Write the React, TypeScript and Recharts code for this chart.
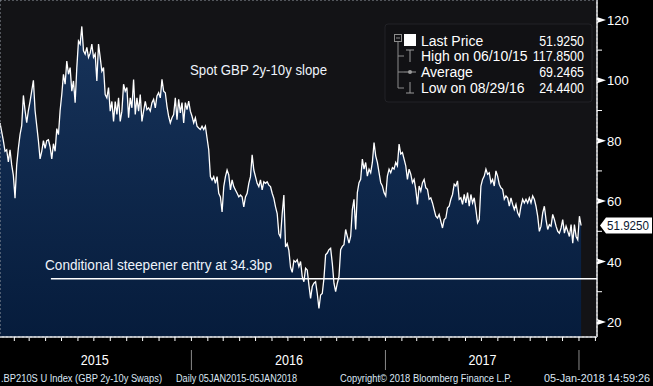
import React from 'react';
import { ComposedChart, Area, XAxis, YAxis, ReferenceLine, CartesianGrid } from 'recharts';

// GBP 2y-10y swap slope, daily 05JAN2015-05JAN2018 (evenly spaced)
const START = Date.UTC(2015, 0, 5);
const END = Date.UTC(2018, 0, 5);
const X_MAX = Date.UTC(2018, 1, 4);

const spot2015a = [
  85.9, 83, 80, 76.5, 77, 73, 77, 72, 68.5, 61, 72, 77.5, 82, 85, 95, 90, 86, 90, 93, 96.5,
  100, 90, 85, 80, 74, 76.5, 80, 77.5, 80, 80.3, 78, 74, 79, 76.5, 84, 82, 90, 95.3, 102, 98.7,
  106.4, 102, 104.2, 96.4, 99.8, 92.6, 104.2, 113, 112, 117.85, 109.8, 108.7, 110.9, 107.6, 109, 112, 107.6, 108.7, 99.8, 112,
  107.6, 103, 104.2, 95.3, 94.2, 97.6, 89.8, 93, 86.4, 93, 88.7, 94.2, 86.4, 89.8, 98.7, 96.4, 97.6, 87.6, 94.2, 90.9,
  100.3, 88.7, 94.2, 89.8, 95.3, 86.4, 89.8, 93, 90.3, 90.9, 89.8,
];
const spot2015b = [
  92.6, 93.7, 90.9, 94.8, 95.9, 94.2, 100.3, 96.4, 95.9, 91.4, 88.1, 85.9, 87.6, 88.7, 94.2, 87, 93.7, 89.2, 92.6, 85.9,
  92.6, 90.3, 93.1, 89.8, 88.1, 85.9, 87.6, 84.8, 84.2, 83.7, 84.8, 83.7, 84.8, 80.9, 77, 68.1, 67, 68.1, 65.9, 68.1,
  62.6, 61.4, 56.4, 64.8, 68.1, 70.3, 68.7, 63.7, 67, 64.8, 63.7, 62.6, 61.4, 62, 61.4, 58.1, 61.4, 62.6, 65.9, 68.1,
  75.3, 70.3, 68.1, 65.9, 64.8, 67, 63.7, 66.4, 65.9, 66.4, 65.3, 64.8, 62.6, 60.9, 58.1, 55.9, 49.2, 48.1, 55.9, 62,
  44.8, 45.9, 43.7, 38.1, 36.4, 40.3, 39.8,
];
const spot2016 = [
  40.6, 38.3, 40, 35, 33.3, 37.8, 37.2, 32.2, 27.8, 31.7, 32.8, 33.3, 29.4, 24.44, 28.9, 29.4, 34.4, 42.2, 42.8, 43.9,
  44.4, 39.4, 32.8, 30, 32.8, 35, 43.9, 45, 45.6, 50.6, 48.3, 46.1, 48.3, 57.2, 60.6, 50.6, 62.8, 66.1, 67.2, 73.9,
  70.6, 72.8, 68.3, 70.6, 69.4, 72.8, 79.4, 75, 72.8, 69.4, 66.1, 65, 62.8, 61.7, 68.3, 70.6, 69.4, 71.1, 70.6, 72.8,
  71.7, 78.9, 75.6, 76.1, 73.9, 71.7, 67.2, 70.6, 68.9, 66.1, 67.2, 63.9, 58.9, 65, 63.3, 66.1, 67.2, 64.4, 63.9, 60.6,
  61.1, 59.4, 57.2, 55, 54.4, 55.6, 53.3,
];
const spot2017 = [
  51.1, 53.9, 54.4, 57.8, 58.3, 60.6, 62.2, 65.6, 65, 66.7, 60.6, 61.1, 58.9, 62.2, 59.4, 62.8, 58.3, 62.2, 59.4, 61.1,
  57.2, 52.8, 53.9, 65, 67.2, 68.3, 70.6, 68.9, 69.4, 66.1, 67.2, 65, 70, 68.3, 65.6, 64.4, 63.9, 60.6, 61.7, 61.1,
  58.3, 61.1, 58.9, 57.2, 58.9, 56.1, 55, 58.3, 60.6, 59.4, 60.6, 59.4, 61.1, 59.4, 61.7, 60.6, 58.3, 55, 50, 51.7,
  56.1, 58.3, 53.9, 50.6, 52.2, 51.7, 55.6, 53.9, 51.7, 50, 49.4, 51.1, 53.9, 49.4, 51.7, 50, 48.3, 52.2, 46.1, 52.2,
  48.3, 47.2, 55, 51.925,
];

const spot = [...spot2015a, ...spot2015b, ...spot2016, ...spot2017];
const data = spot.map((v, i) => ({ t: START + (i * (END - START)) / (spot.length - 1), v }));

const yTicks = [20, 30, 40, 50, 60, 70, 80, 90, 100, 110, 120];
const gridValues = [20, 40, 60, 80, 100, 120];
const yearLabels = ['2015', '2016', '2017'];
const Y_DOMAIN: [number, number] = [15, 126.6];

const monthTicks: number[] = [];
for (let y = 2015; y <= 2018; y++) {
  for (let m = 0; m < 12; m++) {
    const t = Date.UTC(y, m, 1);
    if (t > START && t <= X_MAX) monthTicks.push(t);
  }
}
const quarterTicks = monthTicks.filter((t) => new Date(t).getUTCMonth() % 3 === 0);

const steepenerLevel = 34.3;
const steepenerFrom = Date.UTC(2015, 3, 11);
const lastPrice = 51.925;

const legendLabels = ['Last Price', 'High on 06/10/15', 'Average', 'Low on 08/29/16'];
const legendValues = ['51.9250', '117.8500', '69.2465', '24.4400'];

const FONT = '"Liberation Sans", Arial, sans-serif';
const GRID = '#9499a2';

const layer: React.CSSProperties = { position: 'absolute', left: 0, top: 0, width: 653, height: 386 };

function MonthTick(props: any) {
  const { x, y, payload } = props;
  const d = new Date(payload.value);
  const m = d.getUTCMonth();
  const idx = d.getUTCFullYear() - 2015;
  return (
    <g>
      <line x1={x} x2={x} y1={y} y2={y + 4} stroke="#fff" />
      {m === 0 && <line x1={x} x2={x} y1={y + 13} y2={y + 33} stroke="#8a8a8a" />}
      {m === 6 && yearLabels[idx] && (
        <text x={x + 1} y={y + 28} fill="#fff" fontSize={14} fontFamily={FONT} textAnchor="middle" textLength={28} lengthAdjust="spacingAndGlyphs">
          {yearLabels[idx]}
        </text>
      )}
    </g>
  );
}

function ValueTick(props: any) {
  const { x, y, payload } = props;
  if (payload.value % 20 !== 0) {
    return <line x1={x} x2={x + 5} y1={y} y2={y} stroke="#fff" />;
  }
  return (
    <g>
      <polygon points={`${x},${y - 3} ${x},${y + 3} ${x + 9},${y}`} fill="#fff" />
      <text x={x + 10} y={y + 5} fill="#fff" fontSize={13} fontFamily={FONT}>
        {payload.value}
      </text>
    </g>
  );
}

function LastTag(props: any) {
  const { viewBox } = props;
  const x = viewBox.x + viewBox.width + 3;
  const y = viewBox.y;
  return (
    <g>
      <polygon points={`${x},${y} ${x + 6},${y - 8} ${x + 52},${y - 8} ${x + 52},${y + 8} ${x + 6},${y + 8}`} fill="#fff" />
      <text x={x + 7} y={y + 5} fill="#0b1830" fontSize={13} fontFamily={FONT} textLength={42} lengthAdjust="spacingAndGlyphs">
        {lastPrice.toFixed(4)}
      </text>
    </g>
  );
}

function Overlay() {
  const rows = [41, 56, 72, 88];
  return (
    <svg width={653} height={386} style={{ ...layer, pointerEvents: 'none' }}>
      <text x={190} y={75} fill="#eef3fb" fontSize={14} fontFamily={FONT} textLength={137} lengthAdjust="spacingAndGlyphs">
        Spot GBP 2y-10y slope
      </text>
      <text x={45} y={270} fill="#eef3fb" fontSize={14} fontFamily={FONT} textLength={227} lengthAdjust="spacingAndGlyphs">
        Conditional steepener entry at 34.3bp
      </text>

      <rect x={385} y={24} width={207} height={78} rx={3} fill="#111114" stroke="#222227" />
      <rect x={394.5} y={34.5} width={7} height={7} fill="none" stroke="#8c8c8c" />
      <line x1={396} x2={400} y1={38} y2={38} stroke="#8c8c8c" />
      <line x1={398} x2={398} y1={42} y2={88} stroke="#8c8c8c" />
      <line x1={398} x2={404} y1={56} y2={56} stroke="#8c8c8c" />
      <line x1={398} x2={404} y1={72} y2={72} stroke="#8c8c8c" />
      <line x1={398} x2={404} y1={88} y2={88} stroke="#8c8c8c" />
      <rect x={404} y={34} width={12} height={12} fill="#fff" />
      <line x1={410} x2={410} y1={50} y2={62} stroke="#9a9a9a" />
      <line x1={406} x2={414} y1={50} y2={50} stroke="#9a9a9a" />
      <line x1={404} x2={416} y1={72} y2={72} stroke="#9a9a9a" />
      <circle cx={410} cy={72} r={2} fill="#9a9a9a" />
      <line x1={410} x2={410} y1={82} y2={93} stroke="#9a9a9a" />
      <line x1={406} x2={414} y1={93} y2={93} stroke="#9a9a9a" />
      {legendLabels.map((l, i) => (
        <text key={l} x={421} y={rows[i] + 5} fill="#fff" fontSize={14} fontFamily={FONT}>
          {l}
        </text>
      ))}
      {legendValues.map((v, i) => (
        <text key={v} x={584} y={rows[i] + 5} fill="#fff" fontSize={14} fontFamily={FONT} textAnchor="end" textLength={v.length * 6.4} lengthAdjust="spacingAndGlyphs">
          {v}
        </text>
      ))}

      <g fill="#dce7f4" fontSize={10} fontFamily={FONT}>
        <text x={1} y={382} textLength={161} lengthAdjust="spacingAndGlyphs">.BP210S U Index (GBP 2y-10y Swaps)</text>
        <text x={176} y={382} textLength={121} lengthAdjust="spacingAndGlyphs">Daily 05JAN2015-05JAN2018</text>
        <text x={340} y={382} textLength={172} lengthAdjust="spacingAndGlyphs">Copyright© 2018 Bloomberg Finance L.P.</text>
        <text x={544} y={382} textLength={106} lengthAdjust="spacingAndGlyphs">05-Jan-2018 14:59:26</text>
      </g>
    </svg>
  );
}

// Second transparent chart laid over the series: same axes, but only the dashed
// quarterly / 20bp grid is drawn, so it shows on top of the filled area.
function GridLayer() {
  return (
    <div style={{ ...layer, pointerEvents: 'none' }}>
      <ComposedChart width={653} height={386} data={data} margin={{ top: 0, right: 0, bottom: 0, left: 0 }}>
        <XAxis
          dataKey="t"
          type="number"
          domain={[START, X_MAX]}
          ticks={quarterTicks}
          interval={0}
          height={49}
          tick={false}
          tickLine={false}
          axisLine={false}
        />
        <YAxis
          orientation="right"
          type="number"
          domain={Y_DOMAIN}
          ticks={gridValues}
          interval={0}
          width={56}
          tick={false}
          tickLine={false}
          axisLine={false}
        />
        <CartesianGrid stroke={GRID} strokeDasharray="2 2" />
        <Area dataKey="v" stroke="none" fill="none" dot={false} activeDot={false} isAnimationActive={false} />
      </ComposedChart>
    </div>
  );
}

export default function App() {
  return (
    <div style={{ position: 'relative', width: 653, height: 386, background: '#000', overflow: 'hidden' }}>
      <style>{'body{margin:0;background:#000}'}</style>
      <div style={{ position: 'absolute', left: 0, top: 0, width: 597, height: 337, background: '#131316' }} />
      <div style={layer}>
        <ComposedChart width={653} height={386} data={data} margin={{ top: 0, right: 0, bottom: 0, left: 0 }}>
          <defs>
            <linearGradient id="fillGrad" x1="0" y1="0" x2="0" y2="1">
              <stop offset="0%" stopColor="#17335a" />
              <stop offset="100%" stopColor="#061c3c" />
            </linearGradient>
          </defs>
          <XAxis
            dataKey="t"
            type="number"
            domain={[START, X_MAX]}
            ticks={monthTicks}
            interval={0}
            height={49}
            tickLine={false}
            tickSize={0}
            tickMargin={0}
            axisLine={{ stroke: '#fff', strokeWidth: 1.5 }}
            tick={<MonthTick />}
          />
          <YAxis
            orientation="right"
            type="number"
            domain={Y_DOMAIN}
            ticks={yTicks}
            interval={0}
            width={56}
            tickLine={false}
            tickSize={0}
            tickMargin={0}
            axisLine={{ stroke: '#fff', strokeWidth: 1.5 }}
            tick={<ValueTick />}
          />
          <Area
            type="linear"
            dataKey="v"
            stroke="#fff"
            strokeWidth={1.3}
            fill="url(#fillGrad)"
            fillOpacity={1}
            dot={false}
            activeDot={false}
            isAnimationActive={false}
          />
          <ReferenceLine
            segment={[
              { x: steepenerFrom, y: steepenerLevel },
              { x: X_MAX, y: steepenerLevel },
            ]}
            stroke="#fff"
            strokeWidth={1.5}
          />
          <ReferenceLine y={lastPrice} stroke="none" label={<LastTag />} />
        </ComposedChart>
      </div>
      <GridLayer />
      <Overlay />
    </div>
  );
}
